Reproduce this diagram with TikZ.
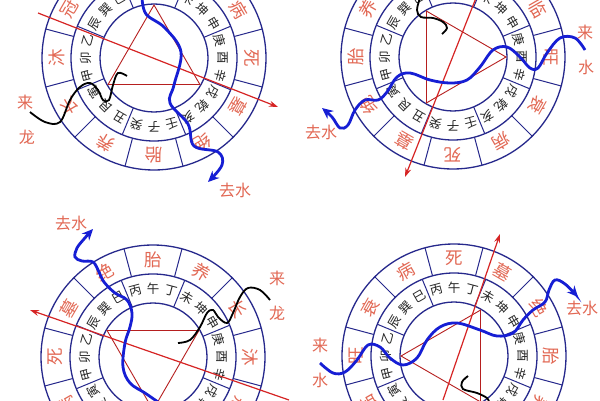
\documentclass[tikz,border=0pt]{standalone}
\usepackage{fontspec}
\newfontfamily\cjk{Noto Sans CJK SC}
\usetikzlibrary{arrows.meta}
\definecolor{ringblue}{RGB}{38,40,140}
\definecolor{stagered}{RGB}{226,104,84}
\definecolor{arrowred}{RGB}{214,36,36}
\definecolor{waveblue}{RGB}{22,30,212}
\tikzset{
  ring/.style={draw=ringblue, line width=1.3pt},
  spoke/.style={draw=ringblue, line width=1pt},
  mountain/.style={font=\cjk\fontsize{12.5}{12.5}\selectfont, text=black!85, inner sep=0pt},
  stage/.style={font=\cjk\fontsize{17.5}{17.5}\selectfont, text=stagered, inner sep=0pt},
  triad/.style={draw=arrowred!85!black, line width=0.9pt},
  pointer/.style={draw=arrowred, line width=1.2pt, -{Stealth[length=9pt,width=6pt]}},
  water/.style={draw=waveblue, line width=2.8pt, -{Stealth[length=11pt,width=10pt]}},
  dragon/.style={draw=black, line width=1.8pt},
  tag/.style={font=\cjk\fontsize{16}{16}\selectfont, text=stagered, inner sep=0pt}
}
% #1 name, #2 #3 centre, #4 angle of the first stage
\newcommand{\luopan}[4]{%
  \begin{scope}[shift={(#2,#3)}]
    \draw[ring] (0,0) circle (54) (0,0) circle (83) (0,0) circle (112);
    \foreach \k in {0,...,7}
      \draw[spoke] (22.5+45*\k:54) -- (22.5+45*\k:83);
    \foreach \k in {0,...,11}
      \draw[spoke] (15+30*\k:83) -- (15+30*\k:112);
    \foreach \m [count=\i from 0] in {午,丁,未,坤,申,庚,酉,辛,戌,乾,亥,壬,子,癸,丑,艮,寅,甲,卯,乙,辰,巽,巳,丙}
      \node[mountain, rotate=-15*\i] (#1-m\i) at (90-15*\i:68.5) {\m};
    \foreach \s [count=\i from 0, evaluate=\i as \ang using #4-30*\i] in {长,沐,冠,临,旺,衰,病,死,墓,绝,胎,养}
      \node[stage, rotate=\ang-90] (#1-s\i) at (\ang:97.5) {\s};
    \draw[triad] (#4:53) -- (#4-120:53) -- (#4-240:53) -- cycle;
  \end{scope}}

\begin{document}
\begin{tikzpicture}[x=1pt, y=1pt]
  \useasboundingbox (0,0) rectangle (600,400);
  \clip (0,0) rectangle (600,400);
  \fill[white] (0,0) rectangle (600,400);

  \luopan{fire}{154}{342}{210}
  \luopan{metal}{453}{343}{120}
  \luopan{water}{153}{43}{30}
  \luopan{wood}{454}{44}{300}

  % top left
  \coordinate (fire-from) at (38,387);
  \coordinate (fire-to) at (278,293);
  \draw[pointer] (fire-from) -- (fire-to);
  \draw[dragon] plot[smooth, tension=0.6] coordinates {(30,288) (45,278) (60,278) (70,300) (80,313) (90,317) (98,310) (103,300) (109,300) (113,315) (118,327) (127,324)};
  \draw[water] plot[smooth, tension=0.6] coordinates {(142,403) (146,386) (165,372) (181,348) (174,315) (170,297) (188,276) (194,254) (218,248) (222,235) (208,218)};
  \node[tag] (fire-lai) at (25,298) {来};
  \node[tag] (fire-long) at (27,263) {龙};
  \node[tag] (fire-qu) at (235,210) {去水};

  % top right
  \coordinate (metal-from) at (476,402);
  \coordinate (metal-to) at (405,223);
  \draw[pointer] (metal-from) -- (metal-to);
  \draw[dragon] plot[smooth, tension=0.6] coordinates {(420,402) (417,390) (421,383) (433,382) (443,378) (447,372) (442,366)};
  \draw[water] plot[smooth, tension=0.6] coordinates {(585,350) (575,362) (560,362) (547,347) (538,332) (530,332) (520,343) (507,353) (493,350) (480,333) (467,320) (450,317) (430,320) (410,327) (397,323) (387,308) (378,300) (365,300) (355,290) (348,275) (340,272) (332,283) (322,292)};
  \node[tag] (metal-lai) at (585,368) {来};
  \node[tag] (metal-shui) at (586,333) {水};
  \node[tag] (metal-qu) at (321,268) {去水};

  % bottom left
  \coordinate (water-from) at (289,0);
  \coordinate (water-to) at (30,90);
  \draw[pointer] (water-from) -- (water-to);
  \draw[dragon] plot[smooth, tension=0.6] coordinates {(270,100) (260,110) (248,112) (240,103) (233,87) (227,77) (218,83) (213,90) (207,87) (200,73) (190,60) (178,57)};
  \draw[water] plot[smooth, tension=0.6] coordinates {(158,-2) (145,7) (130,17) (123,33) (125,57) (130,73) (132,87) (127,100) (115,107) (104,118) (99,128) (93,138) (82,139) (75,143) (77,152) (84,161) (93,171)};
  \node[tag] (water-qu) at (71,177) {去水};
  \node[tag] (water-lai) at (277,122) {来};
  \node[tag] (water-long) at (277,87) {龙};

  % bottom right
  \coordinate (wood-from) at (443,0);
  \coordinate (wood-to) at (500,166);
  \draw[pointer] (wood-from) -- (wood-to);
  \draw[dragon] plot[smooth, tension=0.6] coordinates {(468,24) (462,18) (463,11) (477,7) (487,2) (489,-2)};
  \draw[water] plot[smooth, tension=0.6] coordinates {(320,37) (333,27) (345,28) (357,40) (368,55) (380,53) (390,42) (403,35) (417,42) (427,60) (440,73) (457,77) (480,70) (497,64) (513,67) (523,80) (533,90) (545,98) (549,110) (555,120) (565,116) (578,103)};
  \node[tag] (wood-lai) at (320,55) {来};
  \node[tag] (wood-shui) at (320,20) {水};
  \node[tag] (wood-qu) at (582,92) {去水};
\end{tikzpicture}
\end{document}
